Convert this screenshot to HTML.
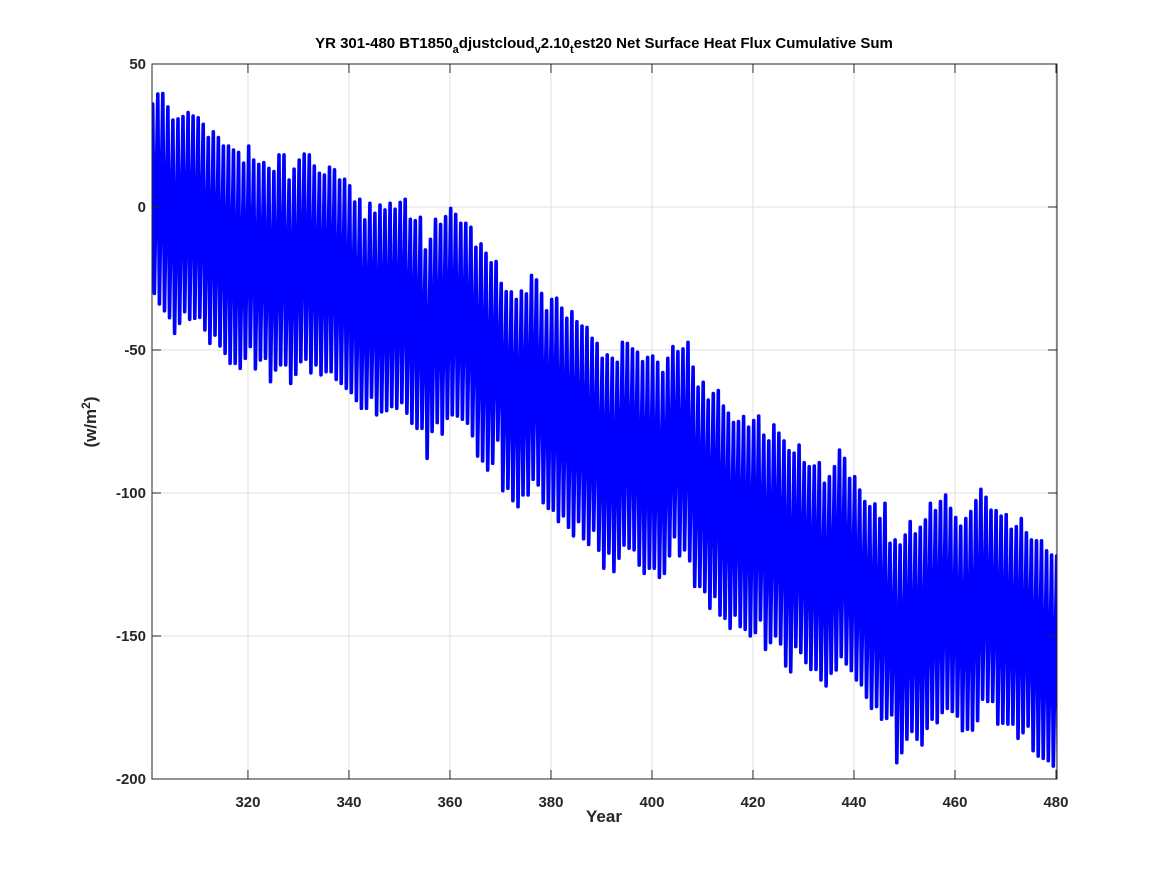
<!DOCTYPE html>
<html><head><meta charset="utf-8"><style>
html,body{margin:0;padding:0;background:#fff;}
svg{display:block;font-family:"Liberation Sans",sans-serif;}
</style></head><body>
<svg id="chart" width="1167" height="875" xmlns="http://www.w3.org/2000/svg">
<rect x="0" y="0" width="1167" height="875" fill="#fff"/>
<text x="604" y="48" text-anchor="middle" font-size="15" font-weight="bold" fill="#000">YR 301-480 BT1850<tspan font-size="11" dy="5">a</tspan><tspan dy="-5">djustcloud</tspan><tspan font-size="11" dy="5">v</tspan><tspan dy="-5">2.10</tspan><tspan font-size="11" dy="5">t</tspan><tspan dy="-5">est20 Net Surface Heat Flux  Cumulative Sum</tspan></text>
<g id="grid"></g>
<defs><clipPath id="clip"><rect x="152" y="64" width="905" height="715"/></clipPath></defs>
<g id="series" clip-path="url(#clip)"></g>
<rect x="152" y="64" width="905" height="715" fill="none" stroke="#262626" stroke-width="1"/>
<g id="ticks"></g>
<text x="604" y="822" text-anchor="middle" font-size="17" font-weight="bold" fill="#262626">Year</text>
<text transform="translate(96,422) rotate(-90)" text-anchor="middle" font-size="17" font-weight="bold" fill="#262626">(w/m<tspan font-size="12" dy="-6">2</tspan><tspan dy="6">)</tspan></text>
</svg>
<script>
const xTicks = [320,340,360,380,400,420,440,460,480];
const yTicks = [50,0,-50,-100,-150,-200];
const startYear = 301;
const startValue = 13;
const endValue = -160;
const peaks = [36,39.5,39.7,35,30.4,30.8,31.6,33,31.8,31.2,28.9,24.3,26.3,24.3,21.3,21.3,19.9,19.1,15.3,21.3,16.4,14.9,15.5,13.5,12.4,18.2,18.2,9.4,13.2,16.4,18.5,18.2,14.3,11.8,11.2,13.9,13,9.4,9.7,7.4,1.7,2.7,-4.5,1.3,-2.2,0.7,
-1,1.3,-0.8,1.6,2.7,-4.3,-4.8,-3.6,-15,-11.3,-4.3,-6.1,-3.4,-0.5,-2.6,-5.7,-5.7,-7.1,-14.1,-12.9,-16.2,-19.5,-19.1,-26.7,-29.6,-29.7,-32.3,-29.4,-30.4,-23.9,-25.5,-30.2,-36.3,-32.3,-31.9,-35.4,-38.9,-36.6,-40.1,-41.6,-42.1,-45.9,-47.7,-52.9,-51.7,
-52.9,-54.3,-47.3,-47.7,-49.6,-50.8,-54.1,-52.6,-52.1,-54.3,-57.9,-52.9,-48.8,-50.6,-49.6,-47.3,-56,-63,-61.3,-67.5,-65.2,-64.2,-69.6,-72.1,-75.4,-75,-73.3,-77,-74.7,-73.1,-79.8,-81.8,-76.2,-79.1,-81.8,-85.2,-86.1,-83.2,-89.4,-90.8,-90.6,-89.4,-96.6,-94.3,-90.8,
-85,-87.9,-94.9,-94.3,-99,-103,-104.8,-103.8,-108.9,-103.6,-117.6,-116.4,-118.2,-114.7,-110,-114.3,-112,-109.4,-103.6,-106.2,-103,-100.7,-105.4,-108.6,-111.6,-108.9,-106.5,-102.7,-98.7,-101.5,-106,-106.2,-108.1,-107.6,-112.7,-111.8,-108.9,-113.9,-116.4,-116.7,-116.7,-120.2,-121.7,-122];
const troughs = [-30.2,-33.9,-36.3,-38.7,-44.2,-40.7,-36.6,-39.3,-38.9,-38.6,-43,-47.7,-44.8,-48.6,-51.2,-54.7,-54.7,-56.4,-52.9,-48.8,-56.6,-53.5,-52.9,-61.1,-57,-55.2,-55.2,-61.7,-58.5,-54.1,-53.2,-58,-55.2,-58.7,-57.6,-57.6,-60.3,-61.7,-63.4,-64.9,-67.7,-70.4,-70.4,-66.5,
-72.7,-71.6,-71.2,-69.8,-70.4,-68.4,-72.1,-75.6,-77.4,-77.4,-87.9,-78.5,-75.4,-79.4,-73.9,-72.7,-73.1,-74.2,-75.6,-80,-87.1,-88.8,-92,-89.6,-81.5,-99.2,-98.4,-102.7,-104.8,-100.7,-100.7,-95.2,-97.2,-103.4,-105.4,
-106,-110,-108,-112,-115,-110,-116,-118,-113,-120,
-126.3,-121,-127.5,-122.8,-118.2,-119.3,-119.9,-125.2,-128.1,-126.3,-126.3,-129.5,-128.1,-122,-115.3,-122,-119.9,-123.7,-132.7,-132.7,-134.5,-140.3,-136.2,-142.7,-143.8,-147.3,-142.7,-146.7,-147.7,-150,-148.8,-144.4,-154.7,-152.3,-150,-152.8,-160.5,-162.5,-153.7,-155.8,-159.3,-161.7,-161.7,-165.4,-167.5,-163,
-161.9,-157.2,-159.8,-162.1,-165.4,-167.1,-171.4,-175.3,-174.7,-179.1,-178.8,-177.6,-194.3,-190.8,-186.1,-183.4,-186.1,-188.1,-182.3,-179.1,-180.3,-176.8,-175.3,-176.4,-178,-183.1,-182.6,-182.9,-179.6,-172.1,-172.9,-172.9,-180.8,-180.5,-180.8,-180.8,-185.8,-183.8,-181.5,-190.1,-192,-192.8,-193.6,-195.5,-198.6];

const NS='http://www.w3.org/2000/svg';
const L=152,R=1057,T=64,B=779,X0=301,X1=480.2,Y0=-200,Y1=50;
function xs(v){return L+(v-X0)/(X1-X0)*(R-L);}
function ys(v){return B-(v-Y0)/(Y1-Y0)*(B-T);}
const grid=document.getElementById('grid'), ticks=document.getElementById('ticks'), series=document.getElementById('series');
function mk(tag,attrs,parent){const e=document.createElementNS(NS,tag);for(const k in attrs)e.setAttribute(k,attrs[k]);parent.appendChild(e);return e;}
xTicks.forEach(t=>{
  const x=xs(t);
  const g=mk('line',{x1:x,x2:x,y1:T,y2:B,stroke:'#dfdfdf','stroke-width':1},grid);
  
  
  const a=mk('line',{x1:x,x2:x,y1:B,y2:B-9,stroke:'#262626'},ticks);
  
  
  const b=mk('line',{x1:x,x2:x,y1:T,y2:T+9,stroke:'#262626'},ticks);
  
  
  const tx=mk('text',{x:x,y:B+28,'text-anchor':'middle','font-size':15,'font-weight':'bold',fill:'#262626'},ticks);
  tx.textContent=t;
  
  
});
yTicks.forEach(t=>{
  const y=ys(t);
  const g=mk('line',{x1:L,x2:R,y1:y,y2:y,stroke:'#dfdfdf','stroke-width':1},grid);
  
  
  const a=mk('line',{x1:L,x2:L+9,y1:y,y2:y,stroke:'#262626'},ticks);
  
  
  const b=mk('line',{x1:R,x2:R-9,y1:y,y2:y,stroke:'#262626'},ticks);
  
  
  const tx=mk('text',{x:L-6,y:y+5,'text-anchor':'end','font-size':15,'font-weight':'bold',fill:'#262626'},ticks);
  tx.textContent=t;
  
  
});
let pts=[[xs(startYear),ys(startValue)]];
for(let i=0;i<peaks.length;i++){
  pts.push([xs(startYear+i+0.14),ys(peaks[i])]);
  if(i<troughs.length) pts.push([xs(startYear+i+0.47),ys(troughs[i])]);
}
pts.push([xs(startYear+peaks.length-0.1),ys(endValue)]);
const line=mk('polyline',{points:pts.map(p=>p[0].toFixed(1)+','+p[1].toFixed(1)).join(' '),fill:'none',stroke:'#0000ff','stroke-width':3.6,'stroke-linejoin':'round','stroke-linecap':'round'},series);


</script>
</body></html>
